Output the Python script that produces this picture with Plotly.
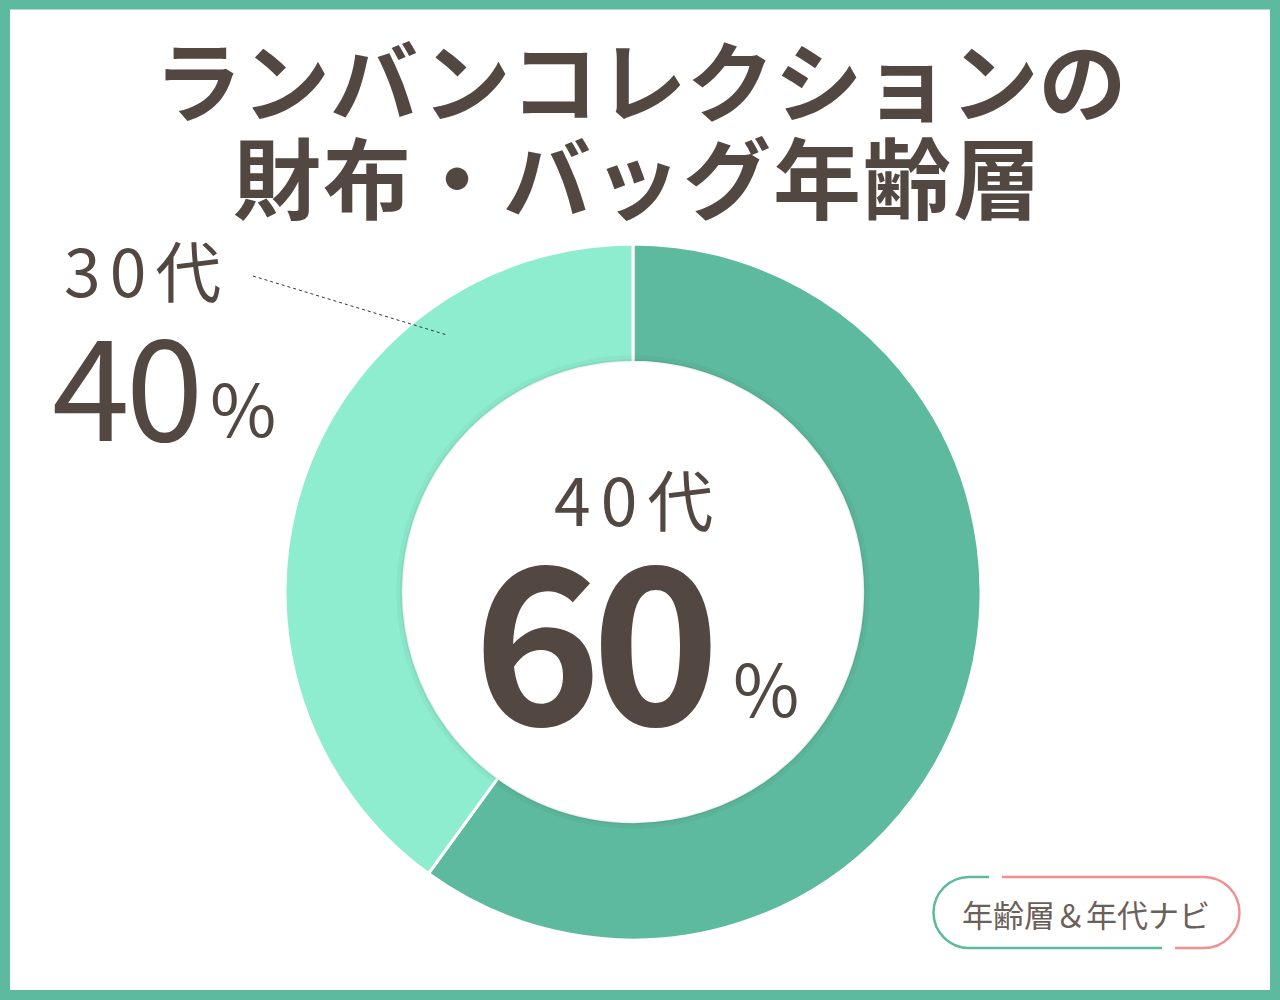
import plotly.graph_objects as go

# data
labels = ["40代", "30代"]
values = [60, 40]
colors = ["#5dba9e", "#8eedcf"]
title_lines = ["ランバンコレクションの", "財布・バッグ年齢層"]
badge_text = "年齢層＆年代ナビ"

TXT = "#524741"
FONT = "Noto Sans CJK JP"
W, H = 1280, 1000
CX, CY, R_IN = 633, 592, 229.7

fig = go.Figure()

fig.add_trace(go.Pie(
    labels=labels,
    values=values,
    marker=dict(colors=colors, line=dict(color="white", width=3)),
    hole=0.66,
    sort=False,
    direction="clockwise",
    rotation=0,
    textinfo="none",
    hoverinfo="label+percent",
    showlegend=False,
    domain=dict(x=[285 / W, 981 / W], y=[1 - 940 / H, 1 - 244 / H]),
))

# empty pixel-space axes for the decorations
fig.add_trace(go.Scatter(x=[], y=[], showlegend=False, hoverinfo="skip"))


def txt(x, y, s, size, xanchor="center", bold=False, color=TXT, spacing=0):
    if spacing:
        s = f"<span style='letter-spacing:{spacing}px'>{s}</span>"
    fig.add_annotation(
        x=x, y=y, xref="x", yref="y", text=f"<b>{s}</b>" if bold else s,
        showarrow=False, xanchor=xanchor, yanchor="middle",
        font=dict(family=FONT, size=size, color=color),
    )


txt(640, 76, title_lines[0], 88, bold=True)
txt(638, 173, title_lines[1], 88, bold=True, spacing=2)

# 30代 label outside
txt(62, 268, labels[1], 66, xanchor="left", spacing=9)
txt(50, 380, f"{values[1]}", 140, xanchor="left", spacing=-4)
txt(208, 405, "%", 72, xanchor="left")

# 40代 label in the centre
txt(638, 497, labels[0], 66, spacing=10)
txt(592, 630, f"{values[0]}", 218, bold=True, spacing=-10)
txt(731, 685, "%", 72, xanchor="left")

shapes = [
    # outer frame
    dict(type="rect", xref="x", yref="y", x0=5, x1=1275, y0=4.5, y1=995,
         line=dict(color="#5dba9e", width=10), fillcolor="rgba(0,0,0,0)"),
    # soft shadow of the white centre on the ring
    dict(type="circle", xref="x", yref="y", x0=CX - R_IN - 4, x1=CX + R_IN + 4,
         y0=CY - R_IN - 4, y1=CY + R_IN + 4,
         line=dict(color="rgba(0,0,0,0.03)", width=6)),
    dict(type="circle", xref="x", yref="y", x0=CX - R_IN - 1.5, x1=CX + R_IN + 1.5,
         y0=CY - R_IN - 1.5, y1=CY + R_IN + 1.5,
         line=dict(color="rgba(0,0,0,0.05)", width=3)),
    # leader line
    dict(type="line", xref="x", yref="y", x0=253, y0=276, x1=447, y1=335,
         line=dict(color="#3a3330", width=1, dash="dot")),
    # badge, green left part
    dict(type="path", xref="x", yref="y",
         path="M 989,877 L 969,877 C 949.5,877 933.5,893 933.5,912.5 "
              "C 933.5,932 949.5,948 969,948 L 1162,948",
         line=dict(color="#5dba9e", width=2.5)),
    # badge, pink right part
    dict(type="path", xref="x", yref="y",
         path="M 1002,877 L 1204,877 C 1223.5,877 1239.5,893 1239.5,912.5 "
              "C 1239.5,932 1223.5,948 1204,948 L 1175,948",
         line=dict(color="#f0908f", width=2.5)),
]

txt(1086, 913, badge_text, 31, color="#6b5f5a")

fig.update_layout(
    width=W, height=H,
    margin=dict(l=0, r=0, t=0, b=0),
    paper_bgcolor="white", plot_bgcolor="rgba(0,0,0,0)",
    shapes=shapes,
    xaxis=dict(range=[0, W], visible=False, domain=[0, 1], fixedrange=True),
    yaxis=dict(range=[H, 0], visible=False, domain=[0, 1], fixedrange=True),
)

fig.write_html("out.html", config={"displayModeBar": False},
               post_script="document.body.style.margin='0';")
